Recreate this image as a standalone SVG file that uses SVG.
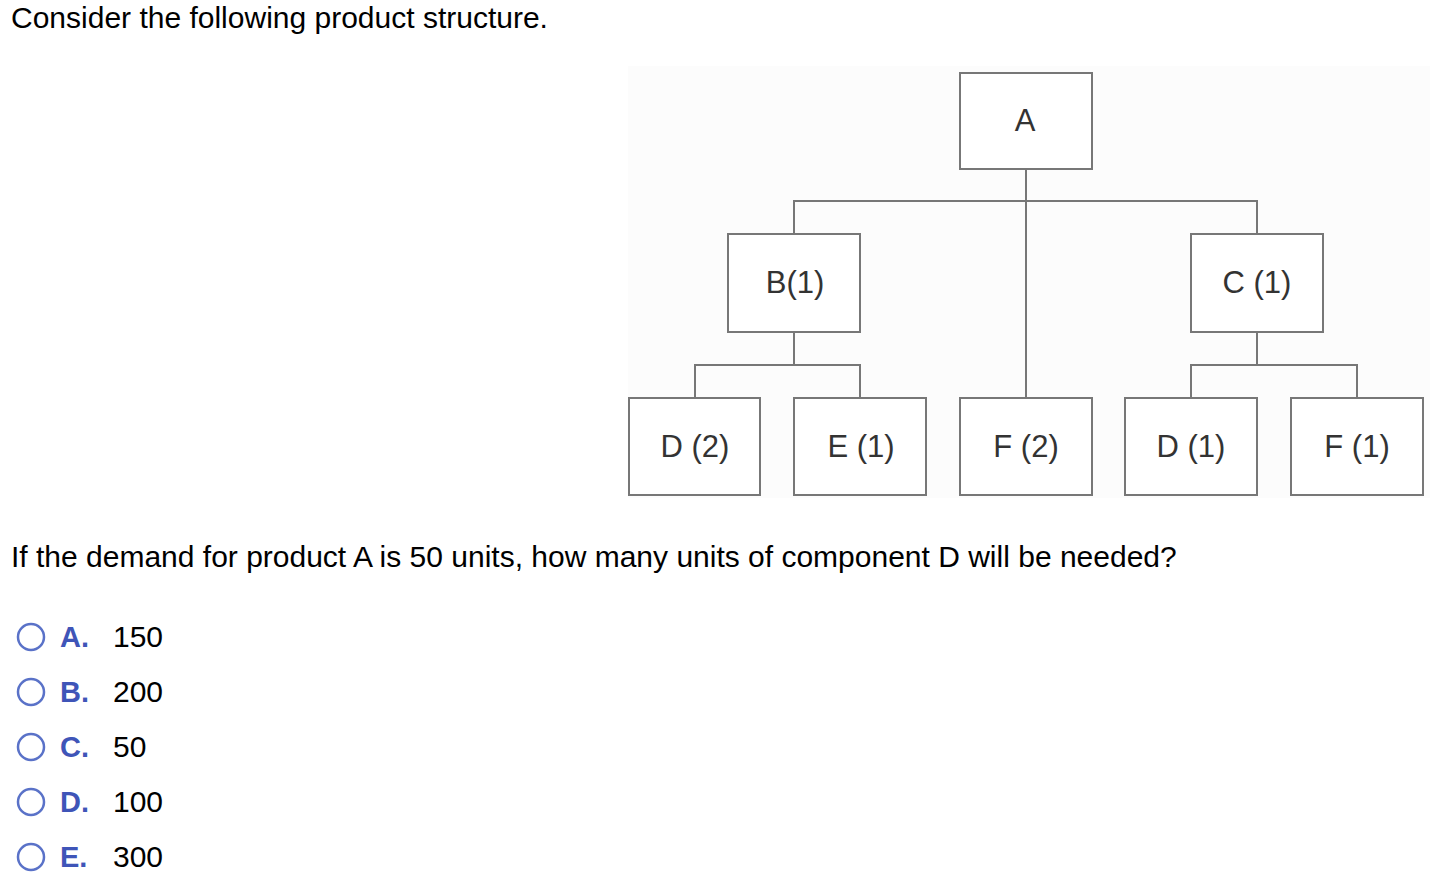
<svg xmlns="http://www.w3.org/2000/svg" width="1430" height="878" viewBox="0 0 1430 878">
<style>
.t{font-family:"Liberation Sans",Arial,sans-serif;font-size:30px;fill:#000}
.n rect{fill:#fff;stroke:#777;stroke-width:2}
.n text{font-family:"Liberation Sans",Arial,sans-serif;font-size:31px;fill:#333;text-anchor:middle}
.c{fill:none;stroke:#777;stroke-width:2}
.o circle{fill:#fff;stroke:#5a72c8;stroke-width:2.5}
.o text.l{font-family:"Liberation Sans",Arial,sans-serif;font-size:29px;font-weight:bold;fill:#3f55b8}
.o text.v{font-family:"Liberation Sans",Arial,sans-serif;font-size:30px;fill:#000}
</style>
<rect width="1430" height="878" fill="#fff"/>
<text class="t" x="11" y="28">Consider the following product structure.</text>
<rect x="628" y="66" width="802" height="432" fill="#fcfcfc"/>
<g id="connectors" class="c">
<path d="M1026 169V398M794 234V201H1257V234M794 332V365M695 398V365H860V398M1257 332V365M1191 398V365H1357V398"/>
</g>
<g id="A" class="n"><rect x="960" y="73" width="132" height="96"/><text x="1025" y="131">A</text></g>
<g id="B" class="n"><rect x="728" y="234" width="132" height="98"/><text x="795" y="293">B(1)</text></g>
<g id="C" class="n"><rect x="1191" y="234" width="132" height="98"/><text x="1257" y="293">C (1)</text></g>
<g id="D2" class="n"><rect x="629" y="398" width="131" height="97"/><text x="695" y="457">D (2)</text></g>
<g id="E1" class="n"><rect x="794" y="398" width="132" height="97"/><text x="861" y="457">E (1)</text></g>
<g id="F2" class="n"><rect x="960" y="398" width="132" height="97"/><text x="1026" y="457">F (2)</text></g>
<g id="D1" class="n"><rect x="1125" y="398" width="132" height="97"/><text x="1191" y="457">D (1)</text></g>
<g id="F1" class="n"><rect x="1291" y="398" width="132" height="97"/><text x="1357" y="457">F (1)</text></g>
<text class="t" x="11" y="567">If the demand for product A is 50 units, how many units of component D will be needed?</text>
<g class="o">
<circle cx="31" cy="637" r="13"/><text class="l" x="60" y="647">A.</text><text class="v" x="113" y="647">150</text>
<circle cx="31" cy="692" r="13"/><text class="l" x="60" y="702">B.</text><text class="v" x="113" y="702">200</text>
<circle cx="31" cy="747" r="13"/><text class="l" x="60" y="757">C.</text><text class="v" x="113" y="757">50</text>
<circle cx="31" cy="802" r="13"/><text class="l" x="60" y="812">D.</text><text class="v" x="113" y="812">100</text>
<circle cx="31" cy="857" r="13"/><text class="l" x="60" y="867">E.</text><text class="v" x="113" y="867">300</text>
</g>
</svg>
